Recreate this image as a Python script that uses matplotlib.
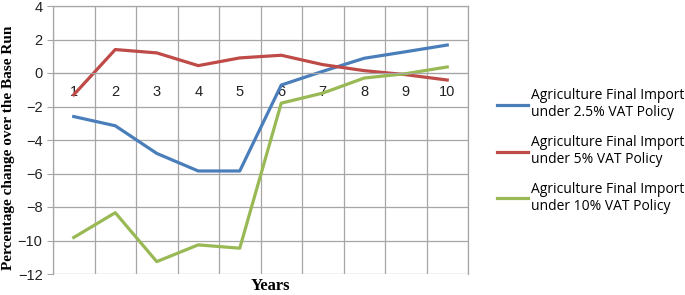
import matplotlib
matplotlib.use("Agg")
import matplotlib.pyplot as plt
import numpy as np

years = [1, 2, 3, 4, 5, 6, 7, 8, 9, 10]
vat_2_5 = [-2.6, -3.15, -4.8, -5.85, -5.85, -0.72, 0.1, 0.88, 1.27, 1.67]
vat_5 = [-1.3, 1.4, 1.2, 0.44, 0.9, 1.06, 0.5, 0.14, -0.1, -0.42]
vat_10 = [-9.82, -8.34, -11.26, -10.26, -10.46, -1.8, -1.2, -0.3, -0.04, 0.36]
labels = ["Agriculture Final Import\nunder 2.5% VAT Policy",
          "Agriculture Final Import\nunder 5% VAT Policy",
          "Agriculture Final Import\nunder 10% VAT Policy"]
colors = ["#4a7ebb", "#be4b48", "#98b954"]

fig = plt.figure(figsize=(6.85, 2.95), dpi=100)
ax = fig.add_axes([53/685, 1-274/295, (468-53)/685, (274-6)/295])

for vals, lab, c in zip([vat_2_5, vat_5, vat_10], labels, colors):
    ax.plot(years, vals, color=c, lw=2.3, label=lab, solid_joinstyle='round')

ax.set_xlim(0.5, 10.5)
ax.set_ylim(-12, 4)
ax.set_yticks(np.arange(-12, 5, 2))
ax.set_xticks(years)
ax.set_xticks(np.arange(0.5, 11, 1), minor=True)
ax.grid(True, which='minor', axis='x', color='#a6a6a6', lw=0.9)
ax.grid(True, which='major', axis='y', color='#a6a6a6', lw=0.9)
ax.set_axisbelow(True)
for s in ['top', 'right', 'left']:
    ax.spines[s].set_color('#a6a6a6')
    ax.spines[s].set_linewidth(0.9)
ax.spines['bottom'].set_position(('data', 0))
ax.spines['bottom'].set_color('#a6a6a6')
ax.tick_params(axis='x', which='both', length=0, pad=9, labelsize=10.5, labelcolor='#222222')
ax.tick_params(axis='y', length=4, color='#a6a6a6', labelsize=10.5, labelcolor='#222222')
for t in ax.get_xticklabels() + ax.get_yticklabels():
    t.set_fontfamily('Liberation Sans')

fig.text(0.012, 0.5, "Percentage change over the Base Run", rotation=90,
         ha='center', va='center', fontsize=11, fontweight='bold', family='Liberation Serif')
fig.text(270/685, 1-286/295, "Years", ha='center', va='center', fontsize=12,
         fontweight='bold', family='Liberation Serif')

leg = fig.legend(loc='center left', bbox_to_anchor=(484/685, 1-151/295), frameon=False,
                 prop={'family': 'Open Sans', 'size': 10}, handlelength=2.3,
                 handletextpad=0.15, labelspacing=1.05)

fig.savefig("out.png", dpi=100)
